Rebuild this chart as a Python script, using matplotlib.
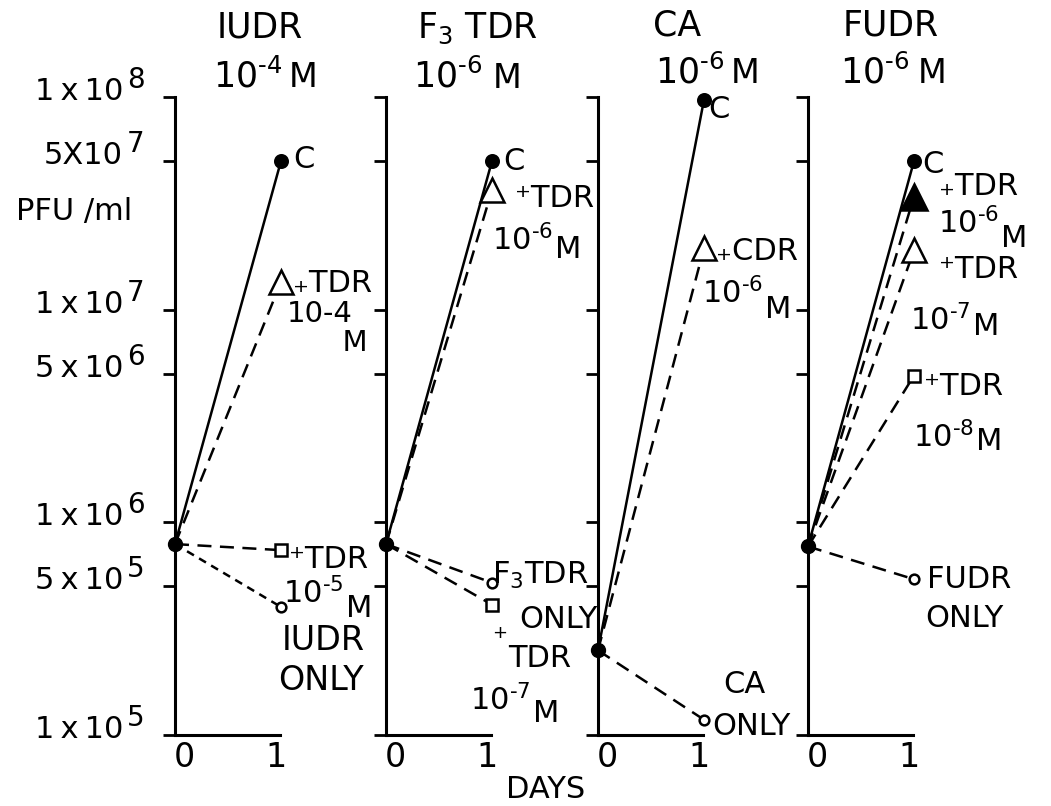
import matplotlib
matplotlib.use("Agg")
import matplotlib.pyplot as plt
from matplotlib.ticker import NullLocator

plt.rcParams['font.family'] = ['DejaVu Sans']
plt.rcParams['mathtext.default'] = 'regular'
plt.rcParams['mathtext.fontset'] = 'dejavusans'

# ---------------- data (PFU/ml at day 0 and day 1) ----------------
days = [0, 1]

iudr_control = [7.9e5, 5.0e7]
iudr_tdr_1e4 = [7.9e5, 1.35e7]
iudr_tdr_1e5 = [7.9e5, 7.4e5]
iudr_only = [7.9e5, 4.0e5]

f3tdr_control = [7.9e5, 5.0e7]
f3tdr_tdr_1e6 = [7.9e5, 3.65e7]
f3tdr_only = [7.9e5, 5.2e5]
f3tdr_tdr_1e7 = [7.9e5, 4.1e5]

ca_control = [2.5e5, 9.7e7]
ca_cdr_1e6 = [2.5e5, 1.95e7]
ca_only = [2.5e5, 1.18e5]

fudr_control = [7.7e5, 5.0e7]
fudr_tdr_1e6 = [7.7e5, 3.4e7]
fudr_tdr_1e7 = [7.7e5, 1.9e7]
fudr_tdr_1e8 = [7.7e5, 4.9e6]
fudr_only = [7.7e5, 5.4e5]

ytick_vals = [1e5, 5e5, 1e6, 5e6, 1e7, 5e7, 1e8]
ytick_mant = ["1\u2009x\u200910", "5\u2009x\u200910", "1\u2009x\u200910", "5\u2009x\u200910",
              "1\u2009x\u200910", "5X10", "1\u2009x\u200910"]
ytick_exp = ["5", "5", "6", "6", "7", "7", "8"]
xtick_labels = ["0", "1"]

# ---------------- styles ----------------
LW = 1.8
LONG = (0, (5.6, 3.4))
SHORT = (0, (3.2, 2.4))
styles = {
    'C':     dict(ls='-', marker='o', mfc='black', ms=9),
    'otri':  dict(ls=LONG, marker='^', mfc='white', ms=17),
    'ftri':  dict(ls=LONG, marker='^', mfc='black', ms=19),
    'sq':    dict(ls=LONG, marker='s', mfc='white', ms=8.5),
    'circ':  dict(ls=LONG, marker='o', mfc='white', ms=7),
    'circs': dict(ls=SHORT, marker='o', mfc='white', ms=7),
}

panels = [
    [(iudr_control, 'C'), (iudr_tdr_1e4, 'otri'), (iudr_tdr_1e5, 'sq'), (iudr_only, 'circs')],
    [(f3tdr_control, 'C'), (f3tdr_tdr_1e6, 'otri'), (f3tdr_only, 'circ'), (f3tdr_tdr_1e7, 'sq')],
    [(ca_control, 'C'), (ca_cdr_1e6, 'otri'), (ca_only, 'circ')],
    [(fudr_control, 'C'), (fudr_tdr_1e6, 'ftri'), (fudr_tdr_1e7, 'otri'),
     (fudr_tdr_1e8, 'sq'), (fudr_only, 'circ')],
]

W, H = 1051, 806
fig = plt.figure(figsize=(W / 100, H / 100), dpi=100)
renderer = fig.canvas.get_renderer()

spines_px = [175, 386, 598, 808]
top_px, bot_px = 97, 735
pw = 211
px_per_day = 106

axes = []
for i, series in enumerate(panels):
    ax = fig.add_axes([spines_px[i] / W, 1 - bot_px / H, pw / W, (bot_px - top_px) / H])
    ax.set_yscale('log')
    ax.set_ylim(1e5, 1e8)
    ax.set_xlim(0, pw / px_per_day)
    ax.patch.set_alpha(0)
    for s in ['top', 'right']:
        ax.spines[s].set_visible(False)
    ax.spines['left'].set_linewidth(2.2)
    ax.spines['bottom'].set_linewidth(2.2)
    ax.spines['bottom'].set_bounds(0, 0.99)
    ax.set_yticks(ytick_vals)
    ax.yaxis.set_minor_locator(NullLocator())
    ax.set_yticklabels([])
    ax.tick_params(axis='y', direction='out', length=9, width=2.0)
    ax.set_xticks([0.085, 0.95], xtick_labels, fontsize=24)
    ax.tick_params(axis='x', length=0, pad=4)
    for vals, kind in series:
        st = styles[kind]
        ax.plot(days, vals, color='black', lw=LW, ls=st['ls'], clip_on=False, zorder=2)
        ax.plot(days[1:], vals[1:], ls='none', marker=st['marker'], ms=st['ms'],
                mfc=st['mfc'], mec='black', mew=1.8, clip_on=False, zorder=3)
    start = series[0][0][0]
    ax.plot(days[:1], [start], ls='none', marker='o', ms=10, color='black',
            clip_on=False, zorder=4)
    axes.append(ax)

# y tick labels on first panel (mantissa + raised exponent)
ax0 = axes[0]
for v, m, e in zip(ytick_vals, ytick_mant, ytick_exp):
    ax0.annotate(m, xy=(0, v), xycoords=('axes fraction', 'data'), xytext=(-52, -3),
                 textcoords='offset pixels', ha='right', va='baseline', fontsize=22,
                 annotation_clip=False)
    ax0.annotate(e, xy=(0, v), xycoords=('axes fraction', 'data'), xytext=(-48, 9),
                 textcoords='offset pixels', ha='left', va='baseline', fontsize=20,
                 annotation_clip=False)


def ftext(x, y, s, size=22, ha='left', va='baseline', **kw):
    return fig.text(x / W, 1 - y / H, s, fontsize=size, ha=ha, va=va, **kw)


def conc(x, y, s, size, m_drop, gap=2, m_size=None):
    """Concentration label '10^-n' followed by a (possibly lowered) 'M'."""
    t = ftext(x, y, s, size)
    bb = t.get_window_extent(renderer)
    ftext(bb.x1 + gap, y + m_drop, "M", m_size or size)
    return t


HY = "\u2010"   # short hyphen for the exponent sign
SUPP = "\u207a"  # raised small plus
SUBP = "\u208a"  # lowered small plus

ftext(74, 220, "PFU /ml", 22, ha='center')
ftext(546, 798, "DAYS", 22, ha='center')

# ---------------- titles ----------------
ftext(217, 38, "IUDR", 25)
conc(213, 87, "10$^{" + HY + "4}$", 25, 0, gap=6, m_size=24)

ftext(417, 38, "F$_{3}$ TDR", 25)
conc(413, 88, "10$^{" + HY + "6}$", 25, 0, gap=10, m_size=24)

ftext(653, 36, "CA", 25)
conc(655, 83, "10$^{" + HY + "6}$", 25, 0, gap=6, m_size=24)

ftext(843, 35, "FUDR", 25)
conc(840, 83, "10$^{" + HY + "6}$", 25, 0, gap=8, m_size=24)

# ---------------- panel 1 labels ----------------
ftext(293, 168, "C", 22)
ftext(293, 292, SUBP + "TDR", 22)
ftext(287, 300, "10-4\n      M", 21, va='top', linespacing=1.05)
ftext(289, 568, SUPP + "TDR", 22)
conc(283, 603, "10$^{" + HY + "5}$", 22, 14)
ftext(282, 650, "IUDR", 24)
ftext(278, 690, "ONLY", 24)

# ---------------- panel 2 labels ----------------
ftext(503, 170, "C", 22)
ftext(515, 207, SUPP + "TDR", 22)
conc(492, 250, "10$^{" + HY + "6}$", 22, 8)
ftext(492, 584, "F$_{3}$TDR", 22)
ftext(519, 628, "ONLY", 22)
ftext(492, 638, "+", 13)
ftext(508, 667, "TDR", 22)
conc(470, 710, "10$^{" + HY + "7}$", 22, 12)

# ---------------- panel 3 labels ----------------
ftext(708, 118, "C", 22)
ftext(716, 260, SUBP + "CDR", 22)
conc(702, 303, "10$^{" + HY + "6}$", 22, 15)
ftext(723, 693, "CA", 22)
ftext(712, 735, "ONLY", 22)

# ---------------- panel 4 labels ----------------
ftext(922, 173, "C", 22)
ftext(939, 195, SUBP + "TDR", 22)
conc(938, 233, "10$^{" + HY + "6}$", 22, 14)
ftext(939, 278, SUPP + "TDR", 22)
conc(910, 330, "10$^{" + HY + "7}$", 22, 5)
ftext(924, 395, SUPP + "TDR", 22)
conc(913, 447, "10$^{" + HY + "8}$", 22, 3)
ftext(927, 588, "FUDR", 22)
ftext(925, 627, "ONLY", 22)

fig.savefig("out.png", dpi=100)
